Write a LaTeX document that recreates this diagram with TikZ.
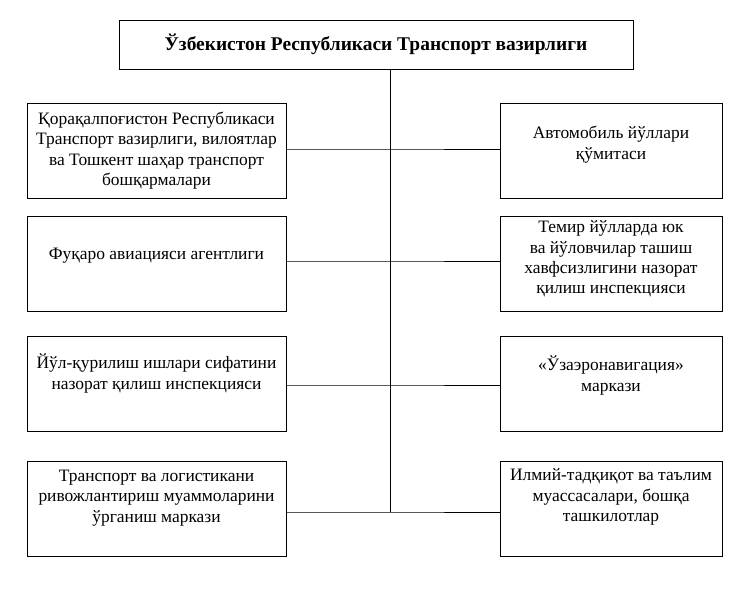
\documentclass[tikz,border=0pt]{standalone}
\usepackage{fontspec}
\setmainfont{Liberation Serif}
\usetikzlibrary{positioning}

\begin{document}
\begin{tikzpicture}[
    x=1bp, y=-1bp,
    every node/.style={
        line width=0.8pt,
        inner sep=0pt,
        font=\fontsize{17.5}{20.5}\selectfont
    },
    every path/.style={
        line width=0.8pt
    },
    leftbox/.style={
        draw,
        minimum width=259bp,
        minimum height=95bp
    },
    rightbox/.style={
        draw,
        minimum width=222bp,
        minimum height=95bp
    },
    boxtext/.style={
        align=center
    }
]
\useasboundingbox (0,0) rectangle (753,590);

\node[draw, minimum width=514bp, minimum height=49.5bp,
      font=\fontsize{19.5}{22}\selectfont\bfseries] (top) at (376,44.75)
      {Ўзбекистон Республикаси Транспорт вазирлиги};

% left column
\node[leftbox] (l1) at (156.5,150.5) {};
\node[leftbox] (l2) at (156.5,263.5) {};
\node[leftbox] (l3) at (156.5,383.5) {};
\node[leftbox] (l4) at (156.5,509) {};

\node[boxtext] (l1t) at (l1.center) {Қорақалпоғистон Республикаси\\Транспорт вазирлиги, вилоятлар\\ва Тошкент шаҳар транспорт\\бошқармалари};
\node[boxtext] (l2t) at ([yshift=8bp]l2.center) {Фуқаро авиацияси агентлиги};
\node[boxtext] (l3t) at ([yshift=10bp]l3.center) {Йўл-қурилиш ишлари сифатини\\назорат қилиш инспекцияси};
\node[boxtext] (l4t) at ([yshift=11bp]l4.center) {Транспорт ва логистикани\\ривожлантириш муаммоларини\\ўрганиш маркази};

% right column
\node[rightbox] (r1) at (611,150.5) {};
\node[rightbox] (r2) at (611,264) {};
\node[rightbox] (r3) at (611,383.5) {};
\node[rightbox] (r4) at (611,509) {};

\node[boxtext] (r1t) at ([yshift=6bp]r1.center) {Автомобиль йўллари\\қўмитаси};
\node[boxtext] (r2t) at ([yshift=5bp]r2.center) {Темир йўлларда юк\\ва йўловчилар ташиш\\хавфсизлигини назорат\\қилиш инспекцияси};
\node[boxtext] (r3t) at ([yshift=8bp]r3.center) {«Ўзаэронавигация»\\маркази};
\node[boxtext] (r4t) at ([yshift=12bp]r4.center) {Илмий-тадқиқот ва таълим\\муассасалари, бошқа\\ташкилотлар};

% trunk and branches
\coordinate (j1) at (390,149);
\coordinate (j2) at (390,261);
\coordinate (j3) at (390,385);
\coordinate (j4) at (390,512);

\draw (top.south -| j1) -- (j4);
\draw (l1.east |- j1) -- (j1) -- (r1.west |- j1);
\draw (l2.east |- j2) -- (j2) -- (r2.west |- j2);
\draw (l3.east |- j3) -- (j3) -- (r3.west |- j3);
\draw (l4.east |- j4) -- (j4) -- (r4.west |- j4);

\end{tikzpicture}
\end{document}
